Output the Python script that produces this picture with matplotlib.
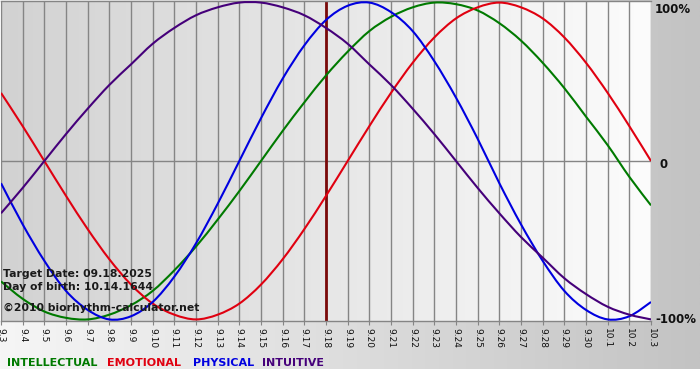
import numpy as np
import matplotlib
matplotlib.use("Agg")
import matplotlib.pyplot as plt
from matplotlib.colors import LinearSegmentedColormap
from matplotlib.path import Path
from matplotlib.patches import PathPatch

# days shown on the x axis
dates = ['9.3', '9.4', '9.5', '9.6', '9.7', '9.8', '9.9', '9.10', '9.11', '9.12',
         '9.13', '9.14', '9.15', '9.16', '9.17', '9.18', '9.19', '9.20', '9.21',
         '9.22', '9.23', '9.24', '9.25', '9.26', '9.27', '9.28', '9.29', '9.30',
         '10.1', '10.2', '10.3']

# cycle values per day (1 = 100%)
intellectual = [-0.76, -0.87, -0.95, -0.99, -1.00, -0.97, -0.91, -0.82, -0.69, -0.54,
                -0.37, -0.19, 0.00, 0.19, 0.37, 0.54, 0.69, 0.82, 0.91, 0.97,
                1.00, 0.99, 0.95, 0.87, 0.76, 0.62, 0.46, 0.28, 0.10, -0.10, -0.28]
emotional = [0.43, 0.22, 0.00, -0.22, -0.43, -0.62, -0.78, -0.90, -0.97, -1.00,
             -0.97, -0.90, -0.78, -0.62, -0.43, -0.22, 0.00, 0.22, 0.43, 0.62,
             0.78, 0.90, 0.97, 1.00, 0.97, 0.90, 0.78, 0.62, 0.43, 0.22, 0.00]
physical = [-0.14, -0.40, -0.63, -0.82, -0.94, -1.00, -0.98, -0.89, -0.73, -0.52,
            -0.27, 0.00, 0.27, 0.52, 0.73, 0.89, 0.98, 1.00, 0.94, 0.82,
            0.63, 0.40, 0.14, -0.14, -0.40, -0.63, -0.82, -0.94, -1.00, -0.98, -0.89]
intuitive = [-0.33, -0.17, 0.00, 0.17, 0.33, 0.48, 0.61, 0.74, 0.84, 0.92,
             0.97, 1.00, 1.00, 0.97, 0.92, 0.84, 0.74, 0.61, 0.48, 0.33,
             0.17, 0.00, -0.17, -0.33, -0.48, -0.61, -0.74, -0.84, -0.92, -0.97, -1.00]

target_day = '9.18'
right_labels = ['100%', '0', '-100%']
right_values = [1, 0, -1]

series = [('INTELLECTUAL', intellectual, '#007a00'),
          ('EMOTIONAL', emotional, '#e00010'),
          ('PHYSICAL', physical, '#0000e0'),
          ('INTUITIVE', intuitive, '#45007a')]


def smooth_path(xs, ys):
    # catmull-rom style smoothing drawn as cubic bezier segments
    pts = np.column_stack([xs, ys]).astype(float)
    ext = np.vstack([pts[0], pts, pts[-1]])
    verts = [pts[0]]
    codes = [Path.MOVETO]
    for i in range(len(pts) - 1):
        p0, p1, p2, p3 = ext[i], ext[i + 1], ext[i + 2], ext[i + 3]
        verts += [p1 + (p2 - p0) / 6, p2 - (p3 - p1) / 6, p2]
        codes += [Path.CURVE4] * 3
    return Path(verts, codes)


W, H = 700, 380
fig = plt.figure(figsize=(7, 3.8), dpi=100)
fig.patch.set_facecolor('white')

# background gradient behind everything
bg = fig.add_axes([0, 0, 1, 1], zorder=0)
bg_cmap = LinearSegmentedColormap.from_list('bg', ['#f6f6f6', '#c3c3c3'])
bg.imshow(np.linspace(0, 1, 256).reshape(1, -1), extent=[0, W, 369, 0],
          cmap=bg_cmap, aspect='auto')
bg.set_xlim(0, W)
bg.set_ylim(H, 0)
bg.axis('off')

# chart area
ax = fig.add_axes([1 / W, 1 - 321 / H, 650 / W, 320 / H], zorder=1)
x = np.arange(len(dates))
plot_cmap = LinearSegmentedColormap.from_list('pl', ['#d2d2d2', '#fcfcfc'])
ax.imshow(np.linspace(0, 1, 256).reshape(1, -1), extent=[0, len(dates) - 1, -1.01, 1.01],
          cmap=plot_cmap, aspect='auto', zorder=0)
ax.set_xlim(0, len(dates) - 1)
ax.set_ylim(-1.01, 1.01)

for xi in x:
    ax.axvline(xi, color='#858585', lw=1, zorder=1)
ax.axhline(0, color='#858585', lw=1, zorder=1)

ti = dates.index(target_day)
ax.axvline(ti, color='#7a0a0a', lw=2, zorder=2)

for name, vals, col in series:
    ax.add_patch(PathPatch(smooth_path(x, vals), facecolor='none', edgecolor=col,
                           lw=1.5, zorder=3))

for s in ['left', 'right']:
    ax.spines[s].set_visible(False)
for s in ['top', 'bottom']:
    ax.spines[s].set_color('#858585')
    ax.spines[s].set_linewidth(1)

ax.set_yticks([])
ax.set_xticks(x)
ax.set_xticklabels(dates, rotation=-90, fontsize=6.5, color='#101010')
ax.tick_params(axis='x', length=3, color='#858585', pad=2)

tr = ax.get_yaxis_transform()
for lab, v in zip(right_labels, right_values):
    va = 'top' if v == 1 else 'center'
    xo = 1.013 if lab == '0' else 1.006
    ax.text(xo, v - 0.02 if v == 0 else v, lab, transform=tr, ha='left', va=va,
            fontsize=8.5, fontweight='bold', color='#101010', clip_on=False)

# info text
info = ['Target Date: 09.18.2025', 'Day of birth: 10.14.1644', '\u00a92010 biorhythm-calculator.net']
info_y = [277, 290, 311]
for t, yy in zip(info, info_y):
    fig.text(3 / W, 1 - yy / H, t, fontsize=7.8, fontweight='bold', color='#1a1a1a',
             va='baseline', ha='left', zorder=5)

# legend text row
legend_x = [7, 107, 193, 262]
for (name, vals, col), lx in zip(series, legend_x):
    fig.text(lx / W, 1 - 366 / H, name, fontsize=8.0, fontweight='bold', color=col,
             va='baseline', ha='left')

fig.savefig('out.png', dpi=100)
